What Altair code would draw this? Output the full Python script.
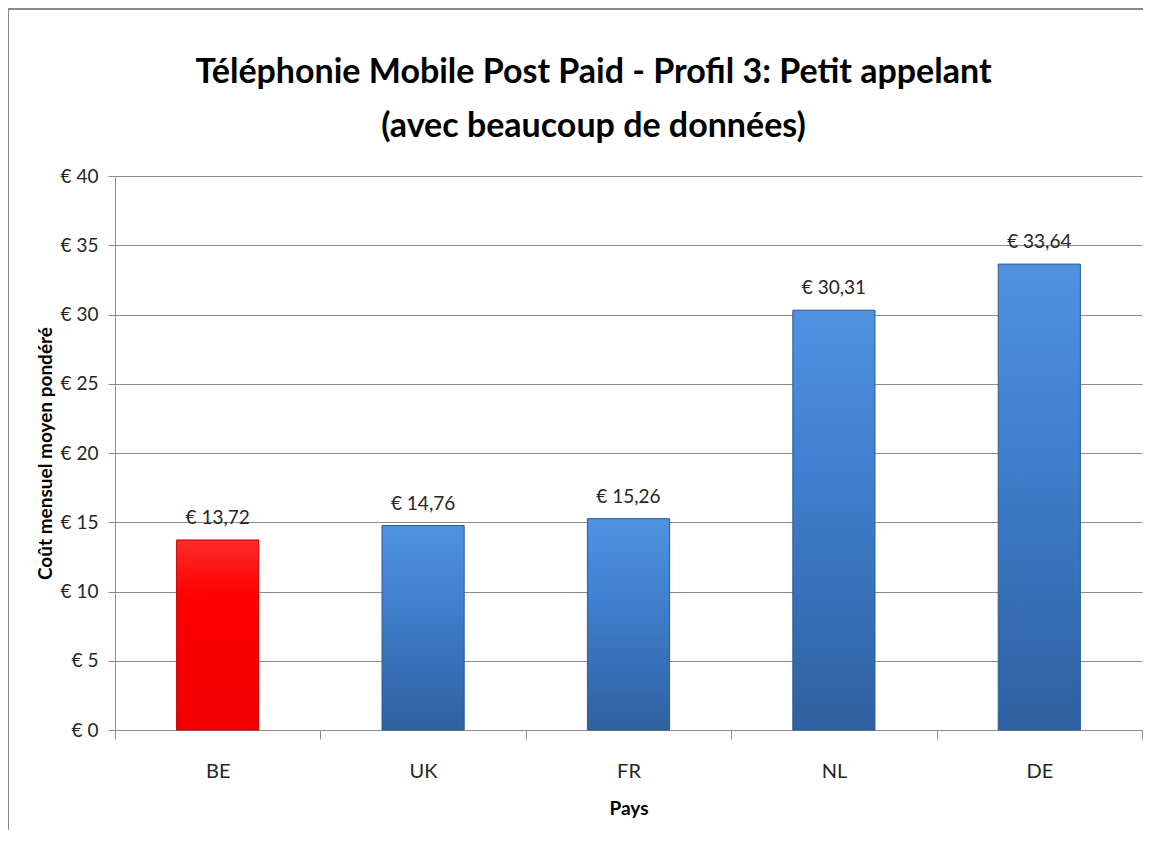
import altair as alt
import pandas as pd

countries = ["BE", "UK", "FR", "NL", "DE"]
values = [13.72, 14.76, 15.26, 30.31, 33.64]
highlight = [True, False, False, False, False]
y_ticks = [0, 5, 10, 15, 20, 25, 30, 35, 40]

df = pd.DataFrame({
    "Pays": countries,
    "value": values,
    "hl": highlight,
    "label": ["€ " + f"{v:.2f}".replace(".", ",") for v in values],
})

W, H = 1027, 554
FONT = "Lato"

x_enc = alt.X(
    "Pays:N",
    sort=countries,
    scale=alt.Scale(paddingInner=0, paddingOuter=0),
    axis=alt.Axis(
        title="Pays",
        labelAngle=0,
        tickBand="extent",
        labelFontSize=20,
        labelPadding=22,
        tickSize=9,
        titleFontSize=19,
        titleFontWeight="bold",
        titleX=W / 2,
        titleY=78,
        titleBaseline="middle",
        titleAlign="center",
    ),
)
y_enc = alt.Y(
    "value:Q",
    scale=alt.Scale(domain=[0, 40], nice=False),
    axis=alt.Axis(
        values=y_ticks,
        title="Coût mensuel moyen pondéré",
        labelExpr="'€ ' + datum.value",
        labelFontSize=19,
        labelPadding=10,
        tickSize=7,
        titleFontSize=19,
        titleFontWeight="bold",
        titleX=-70,
        titleY=H / 2,
        titleAngle=270,
        titleAlign="center",
        titleBaseline="middle",
        grid=True,
    ),
)

blue_grad = alt.Gradient(
    gradient="linear", x1=0, x2=0, y1=0, y2=1,
    stops=[
        alt.GradientStop(color="#4f93e0", offset=0),
        alt.GradientStop(color="#3f7fcd", offset=0.4),
        alt.GradientStop(color="#2f60a0", offset=1),
    ],
)
red_grad = alt.Gradient(
    gradient="linear", x1=0, x2=0, y1=0, y2=1,
    stops=[
        alt.GradientStop(color="#ff2a2a", offset=0),
        alt.GradientStop(color="#ff0000", offset=0.3),
        alt.GradientStop(color="#f00000", offset=1),
    ],
)

base = alt.Chart(df)

blue = base.transform_filter("!datum.hl").mark_bar(
    color=blue_grad, width=alt.RelativeBandSize(0.4), stroke="#2c5a92", strokeWidth=1
).encode(x=x_enc, y=y_enc)

red = base.transform_filter("datum.hl").mark_bar(
    color=red_grad, width=alt.RelativeBandSize(0.4), stroke="#c00000", strokeWidth=1
).encode(x=x_enc, y=y_enc)

text = base.mark_text(
    baseline="alphabetic", dy=-16, fontSize=19, font=FONT, color="#262626"
).encode(x=alt.X("Pays:N", sort=countries), y="value:Q", text="label:N")

frame_df = pd.DataFrame({"f": [0]})
frame_top = alt.Chart(frame_df).mark_rule(color="#8a8a8a", strokeWidth=2).encode(
    x=alt.value(-107), x2=alt.value(W + 10), y=alt.value(-167)
)
frame_left = alt.Chart(frame_df).mark_rule(color="#8a8a8a", strokeWidth=2).encode(
    x=alt.value(-107), y=alt.value(-167), y2=alt.value(H + 120)
)

chart = alt.layer(blue, red, text, frame_top, frame_left).properties(
    width=W,
    height=H,
    autosize=alt.AutoSizeParams(type="none"),
    padding={"left": 107, "top": 168, "right": 1, "bottom": 100},
    title=alt.TitleParams(
        text=["Téléphonie Mobile Post Paid - Profil 3: Petit appelant",
              "(avec beaucoup de données)"],
        fontSize=34,
        font=FONT,
        fontWeight="bold",
        color="#000000",
        lineHeight=54,
        anchor="middle",
        baseline="alphabetic",
        dx=-35,
        dy=163,
        offset=0,
    ),
).configure_view(stroke=None).configure_axis(
    labelFont=FONT,
    titleFont=FONT,
    labelColor="#262626",
    titleColor="#000000",
    domainColor="#8c8c8c",
    tickColor="#8c8c8c",
    gridColor="#8c8c8c",
    domainWidth=1,
    gridWidth=1,
    tickWidth=1,
)

chart.save("out.html", embed_options={"renderer": "svg", "actions": False})
